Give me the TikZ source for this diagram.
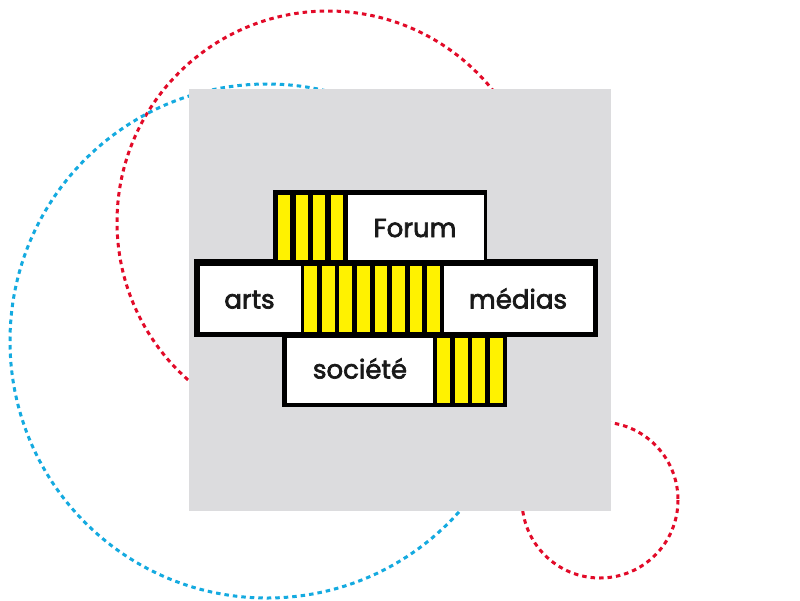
\documentclass[tikz,border=0pt]{standalone}
\usepackage{fontspec}
\setmainfont{Poppins}
\newfontfamily\lblfont{Poppins}[FakeBold=2.6]
\definecolor{cred}{RGB}{226,10,40}
\definecolor{cblue}{RGB}{20,170,224}
\definecolor{cgray}{RGB}{220,220,222}
\definecolor{cyel}{RGB}{255,242,0}
\tikzset{
  dotline/.style={line width=3pt, dash pattern=on 4.5pt off 4pt},
  lbl/.style={font=\lblfont\fontsize{26}{28}\selectfont, text=black!90, anchor=base, inner sep=0pt},
  ystripe/.style={fill=cyel, draw=none}
}
\begin{document}
\begin{tikzpicture}[x=1pt,y=-1pt]
\useasboundingbox (0,0) rectangle (800,600);
\fill[white] (0,0) rectangle (800,600);
% dotted circles
\draw[dotline, cred] (328,222) circle[radius=211];
\draw[dotline, cblue] (267,341) circle[radius=257];
\draw[dotline, cred] (600,500) circle[radius=78];
% gray square
\fill[cgray] (189,89) rectangle (611,511);
% black outer boxes
\fill[black] (273,190) rectangle (487,262);
\fill[black] (194,259) rectangle (597.5,337);
\fill[black] (282,334) rectangle (507,407);
% white panels
\fill[white] (347.5,195) rectangle (483.5,260);
\fill[white] (200,266) rectangle (300.5,331.5);
\fill[white] (444,266) rectangle (593,331.5);
\fill[white] (287,337.5) rectangle (432.5,402.5);
% stripes top
\foreach \i in {0,1,2,3}{
  \fill[ystripe] ({278.3+17.5*\i},195) rectangle ({290+17.5*\i},260);
}
% stripes middle
\foreach \i in {0,...,7}{
  \fill[ystripe] ({304.3+17.55*\i},266) rectangle ({317+17.55*\i},331.5);
}
% stripes bottom
\foreach \i in {0,1,2,3}{
  \fill[ystripe] ({437.3+17.5*\i},337.5) rectangle ({450+17.5*\i},402.5);
}
% labels
\node[lbl] (forum) at (415,237) {Forum};
\node[lbl] (arts) at (249.5,308.5) {arts};
\node[lbl] (medias) at (518,308.5) {médias};
\node[lbl] (societe) at (360,378.5) {société};
\end{tikzpicture}
\end{document}
